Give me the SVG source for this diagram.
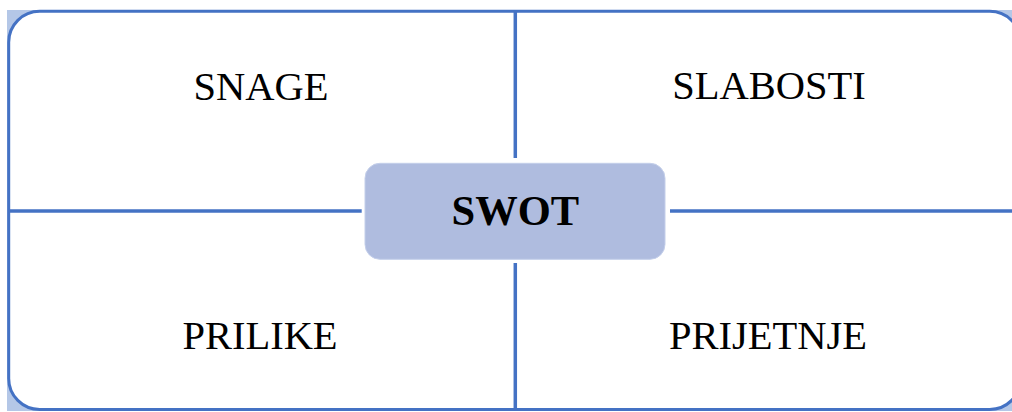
<svg xmlns="http://www.w3.org/2000/svg" width="1012" height="412" viewBox="0 0 1012 412">
<style>
.lbl{font-family:"Liberation Serif","Times New Roman",serif;font-size:40.5px;fill:#000;text-anchor:middle}
.ttl{font-family:"Liberation Serif","Times New Roman",serif;font-size:42.5px;font-weight:bold;fill:#000;text-anchor:middle}
.ln{stroke:#4472c4;stroke-width:3.5;fill:none}
</style>
<rect x="0" y="0" width="1012" height="412" fill="#ffffff"/>
<rect x="7" y="10" width="1005" height="401" fill="#b4c7e7"/>
<g id="frame">
<rect x="8.7" y="11.3" width="1012" height="398.2" rx="31" ry="31" fill="#ffffff" stroke="#4472c4" stroke-width="3"/>
</g>
<g id="connectors">
<line class="ln" x1="515.3" y1="11" x2="515.3" y2="158"/>
<line class="ln" x1="515.3" y1="263" x2="515.3" y2="410"/>
<line class="ln" x1="8" y1="211" x2="361.7" y2="211"/>
<line class="ln" x1="670" y1="211" x2="1012" y2="211"/>
</g>
<g id="snage"><text class="lbl" x="261" y="99.5">SNAGE</text></g>
<g id="slabosti"><text class="lbl" x="769" y="99">SLABOSTI</text></g>
<g id="prilike"><text class="lbl" x="260" y="348.5">PRILIKE</text></g>
<g id="prijetnje"><text class="lbl" x="768" y="348.5">PRIJETNJE</text></g>
<g id="swot">
<rect x="365" y="163.3" width="300" height="96" rx="15" ry="15" fill="#afbcdf" stroke="#c4cfea" stroke-width="1"/>
<text class="ttl" x="515.3" y="224.5">SWOT</text>
</g>
</svg>
